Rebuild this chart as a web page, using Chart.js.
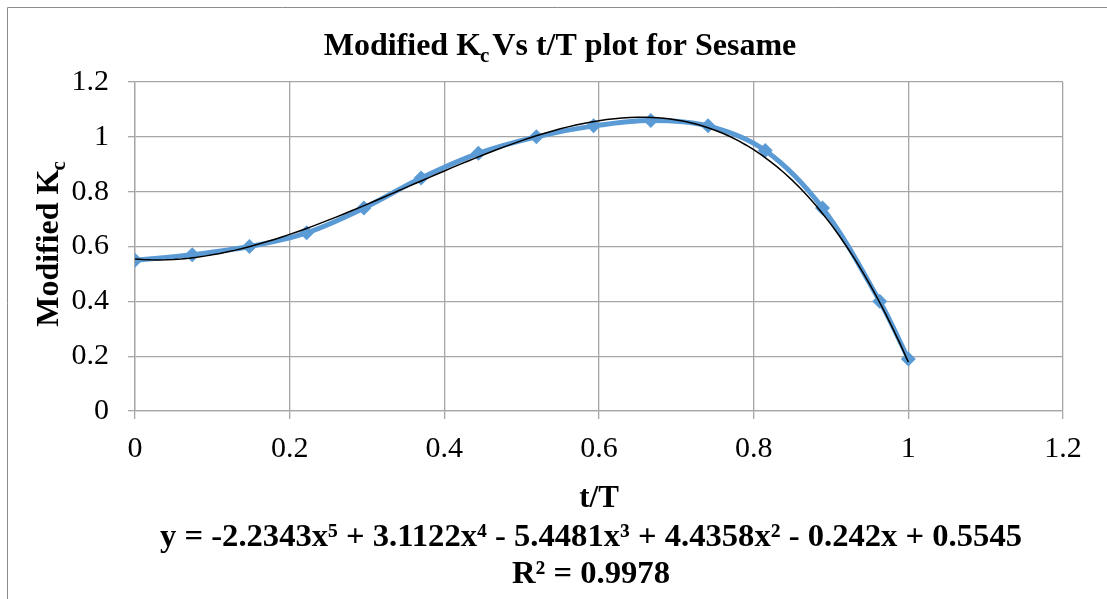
<!DOCTYPE html>
<html><head><meta charset="utf-8">
<script src="https://cdn.jsdelivr.net/npm/chart.js@4.4.0/dist/chart.umd.min.js"></script>
<style>html,body{margin:0;padding:0;background:#fff}</style>
</head><body>
<canvas id="c" width="1107" height="599" style="display:block;width:1107px;height:599px"></canvas>
<script>
// ---- data ----
const tValues  = [0, 0.074, 0.148, 0.222, 0.296, 0.370, 0.444, 0.519, 0.593, 0.667, 0.741, 0.815, 0.889, 0.963, 1.0];
const kcValues = [0.55, 0.57, 0.60, 0.65, 0.74, 0.85, 0.94, 1.00, 1.04, 1.06, 1.04, 0.95, 0.74, 0.40, 0.19];
// polynomial trendline coefficients shown on the chart (c0 .. c5)
const trendCoefficients = [0.5545, -0.242, 4.4358, -5.4481, 3.1122, -2.2343];
const xTicks = [0, 0.2, 0.4, 0.6, 0.8, 1, 1.2];
const yTicks = [0, 0.2, 0.4, 0.6, 0.8, 1, 1.2];
const titleParts = ['Modified K', 'c', 'Vs t/T plot for Sesame'];
const yTitleParts = ['Modified K', 'c'];
const xTitle = 't/T';
const equationText = 'y = -2.2343x\u2075 + 3.1122x\u2074 - 5.4481x\u00B3 + 4.4358x\u00B2 - 0.242x + 0.5545';
const r2Text = 'R\u00B2 = 0.9978';

// trendline drawn from the displayed equation, over the data's x range
const trendX = [];
for (let i = 0; i <= 100; i++) trendX.push(i / 100);
const trendPoints = trendX.map(x => ({x, y: trendCoefficients.reduce((s, c, k) => s + c * Math.pow(x, k), 0)}));

const SERIF = "'Liberation Serif', 'Times New Roman', serif";
const GRID = '#a6a6a6';

function drawSubText(ctx, parts, size, x, y, align, gap) {
  const main = 'bold ' + size + 'px ' + SERIF;
  const sub = 'bold ' + Math.round(size * 0.65) + 'px ' + SERIF;
  ctx.font = main; const w0 = ctx.measureText(parts[0]).width - 1;
  ctx.font = sub; const w1 = ctx.measureText(parts[1]).width + (gap || 0);
  ctx.font = main; const w2 = parts[2] ? ctx.measureText(parts[2]).width : 0;
  const total = w0 + w1 + w2;
  let sx = align === 'center' ? x - total / 2 : x;
  ctx.textAlign = 'left'; ctx.textBaseline = 'alphabetic';
  ctx.font = main; ctx.fillText(parts[0], sx, y);
  ctx.font = sub; ctx.fillText(parts[1], sx + w0, y + size * 0.22);
  if (parts[2]) { ctx.font = main; ctx.fillText(parts[2], sx + w0 + w1, y); }
}

const decor = {
  id: 'decor',
  afterDraw(chart) {
    const ctx = chart.ctx, ca = chart.chartArea;
    ctx.save();
    ctx.fillStyle = '#000';
    // title
    drawSubText(ctx, titleParts, 32, 560, 55, 'center', 3);
    // y title (rotated)
    ctx.save();
    ctx.translate(58, 244);
    ctx.rotate(-Math.PI / 2);
    drawSubText(ctx, yTitleParts, 32, 0, 0, 'center', 0);
    ctx.restore();
    // x title
    ctx.font = 'bold 31px ' + SERIF;
    ctx.textAlign = 'center'; ctx.textBaseline = 'alphabetic';
    const cx = (ca.left + ca.right) / 2;
    ctx.fillText(xTitle, cx, 507);
    // equation + R² (condensed)
    ctx.font = 'bold 32px ' + SERIF;
    const ew = ctx.measureText(equationText).width;
    const sc = 862 / ew;
    ctx.save(); ctx.translate(591, 546); ctx.scale(sc, 1);
    ctx.fillText(equationText, 0, 0); ctx.restore();
    ctx.save(); ctx.translate(591, 583); ctx.scale(sc, 1);
    ctx.fillText(r2Text, 0, 0); ctx.restore();
    // outer chart border
    ctx.strokeStyle = '#8c8c8c'; ctx.lineWidth = 1;
    ctx.beginPath();
    ctx.moveTo(7.5, 620); ctx.lineTo(7.5, 7.5); ctx.lineTo(1120, 7.5);
    ctx.stroke();
    ctx.restore();
  }
};

new Chart(document.getElementById('c'), {
  type: 'scatter',
  data: {
    datasets: [
      {
        label: 'Poly. trend',
        data: trendPoints,
        showLine: true,
        borderColor: '#000',
        borderWidth: 1.5,
        pointRadius: 0,
        tension: 0,
        order: 0
      },
      {
        label: 'Modified Kc',
        data: tValues.map((t, i) => ({x: t, y: kcValues[i]})),
        showLine: true,
        borderColor: '#5b9bd5',
        backgroundColor: '#5b9bd5',
        borderWidth: 5,
        pointStyle: 'rectRot',
        pointRadius: 7.5,
        pointBorderWidth: 0,
        tension: 0.35,
        order: 1
      }
    ]
  },
  options: {
    responsive: false,
    animation: false,
    devicePixelRatio: 1,
    layout: { padding: { left: 0, top: 82, right: 44, bottom: 0 } },
    plugins: { legend: { display: false }, title: { display: false }, tooltip: { enabled: false } },
    scales: {
      x: {
        type: 'linear', min: 0, max: 1.2,
        afterBuildTicks: s => { s.ticks = xTicks.map(v => ({value: v})); },
        afterFit: s => { s.height = 599 - 411; },
        grid: { color: GRID, lineWidth: 1.3, tickLength: 8, drawTicks: true },
        border: { color: GRID, width: 1.3 },
        ticks: { color: '#000', font: { family: SERIF, size: 30 }, padding: 12, maxRotation: 0,
                 callback: v => String(+v.toFixed(1)) }
      },
      y: {
        type: 'linear', min: 0, max: 1.2,
        afterBuildTicks: s => { s.ticks = yTicks.map(v => ({value: v})); },
        afterFit: s => { s.width = 135; },
        grid: { color: GRID, lineWidth: 1.3, tickLength: 7, drawTicks: true },
        border: { color: GRID, width: 1.3 },
        ticks: { color: '#000', font: { family: SERIF, size: 30 }, padding: 19,
                 callback: v => String(+v.toFixed(1)) }
      }
    }
  },
  plugins: [decor]
});
</script>
</body></html>
